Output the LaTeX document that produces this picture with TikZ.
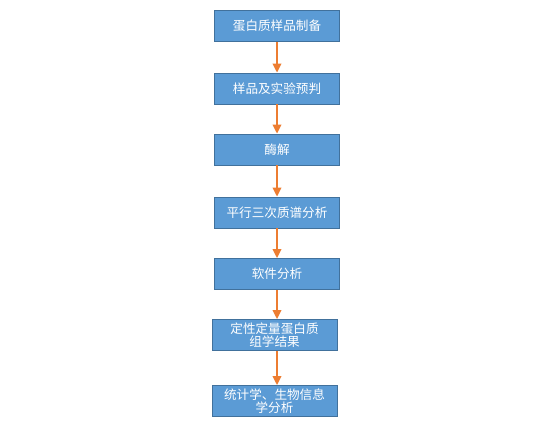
\documentclass[tikz,border=0pt]{standalone}
\usepackage{fontspec}
\newfontfamily\cjk{Noto Sans CJK SC}
\usetikzlibrary{arrows.meta}
\definecolor{boxfill}{HTML}{5B9BD5}
\definecolor{boxline}{HTML}{41719C}
\definecolor{arr}{HTML}{ED7D31}
\tikzset{
  stepbox/.style={draw=boxline, line width=0.8pt, fill=boxfill, minimum width=125pt, minimum height=31pt,
    inner sep=0pt, text=white, align=center, font=\cjk\fontsize{12.6}{13.5}\selectfont},
  conn/.style={draw=arr, line width=1.8pt, -{Triangle[length=9pt,width=8.5pt]}}
}
\begin{document}
\begin{tikzpicture}[x=1pt,y=-1pt]
\useasboundingbox (0,0) rectangle (556,433);
\fill[white] (0,0) rectangle (556,433);
\node[stepbox] (a) at (277,26) {蛋白质样品制备};
\node[stepbox] (b) at (277,88.5) {样品及实验预判};
\node[stepbox] (c) at (277,149.5) {酶解};
\node[stepbox] (d) at (277,212.5) {平行三次质谱分析};
\node[stepbox] (e) at (277,274) {软件分析};
\node[stepbox] (f) at (274.5,335) {定性定量蛋白质\\组学结果};
\node[stepbox] (g) at (274.5,401) {统计学、生物信息\\学分析};
\draw[conn] (a.south) -- (b.north);
\draw[conn] (b.south) -- (c.north);
\draw[conn] (c.south) -- (d.north);
\draw[conn] (d.south) -- (e.north);
\draw[conn] (e.south) -- (e.south |- f.north);
\draw[conn] (e.south |- f.south) -- (e.south |- g.north);
\end{tikzpicture}
\end{document}
